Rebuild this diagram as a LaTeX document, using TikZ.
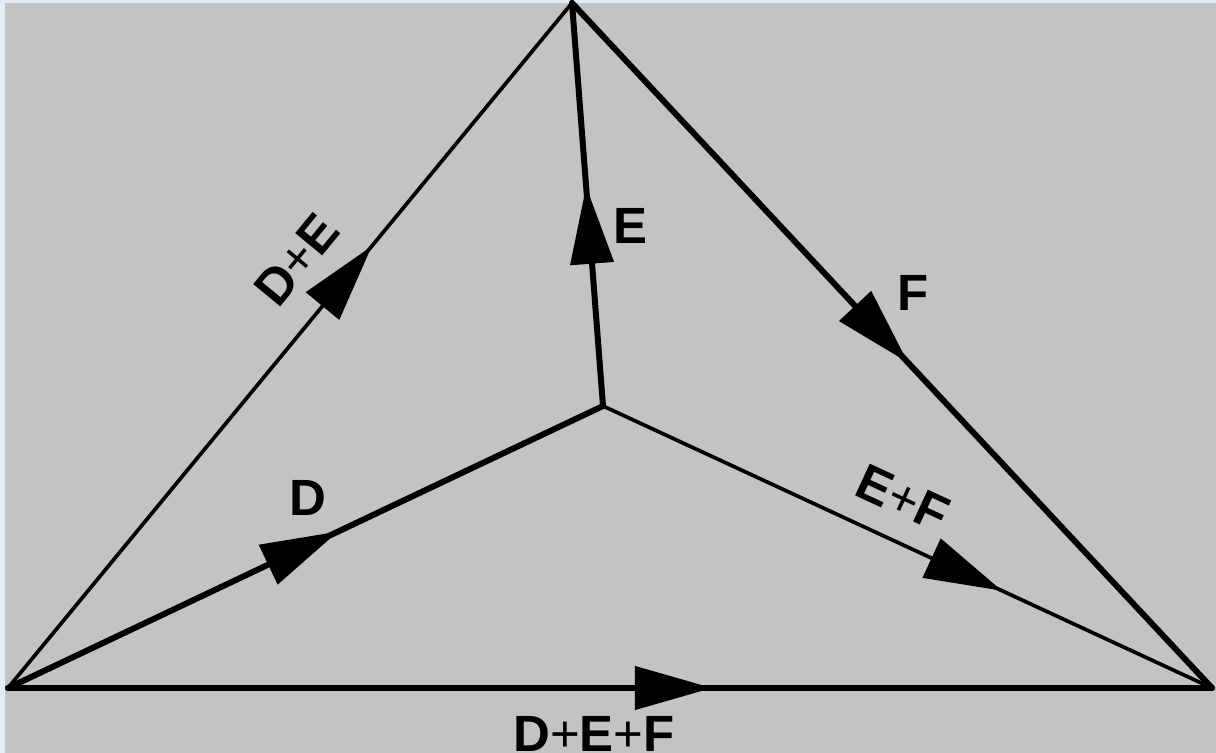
\documentclass[tikz,border=0pt]{standalone}
\usepackage{fontspec}
\setmainfont{Liberation Sans}
\usetikzlibrary{arrows.meta,decorations.markings}
\definecolor{bggray}{RGB}{195,195,195}
\definecolor{bgblue}{RGB}{226,236,246}
\begin{document}
\begin{tikzpicture}[x=0.02cm, y=0.02cm, font=\fontsize{29}{30}\selectfont\bfseries]
			\tikzset{
				ethick/.style={line width=3.4pt, line cap=round},
				ethin/.style={line width=2.1pt, line cap=round},
				marr/.style={postaction={decorate}, decoration={markings, mark=at position #1 with {\arrow{Triangle[length=1.55cm, width=0.85cm]}}}},
				lbl/.style={inner sep=0pt}
			}
			\fill[bgblue] (0,0) rectangle (1216,753);
			\fill[bggray] (5,0) rectangle (1216,750);
			\useasboundingbox (0,0) rectangle (1216,753);
			\coordinate (a) at (8,65);
			\coordinate (t) at (572,750);
			\coordinate (r) at (1212,65);
			\coordinate (o) at (603,347);
			\draw[ethin, marr=0.645] (a) -- (t);
			\draw[ethick, marr=0.555] (a) -- (o);
			\draw[ethick, marr=0.545] (o) -- (t);
			\draw[ethick, marr=0.525] (t) -- (r);
			\draw[ethin, marr=0.655] (o) -- (r);
			\draw[ethick, marr=0.585] (a) -- (r);
			\node[lbl, rotate=50.5] (lde) at (297,493) {D{\mdseries+}E};
			\node[lbl] (ld) at (308,255) {D};
			\node[lbl] (le) at (630,527) {E};
			\node[lbl] (lf) at (913,460) {F};
			\node[lbl, rotate=-24.8] (lef) at (903,255) {E{\mdseries+}F};
			\node[lbl, anchor=base] (ldef) at (594,1) {D{\mdseries+}E{\mdseries+}F};
		\end{tikzpicture}
\end{document}
